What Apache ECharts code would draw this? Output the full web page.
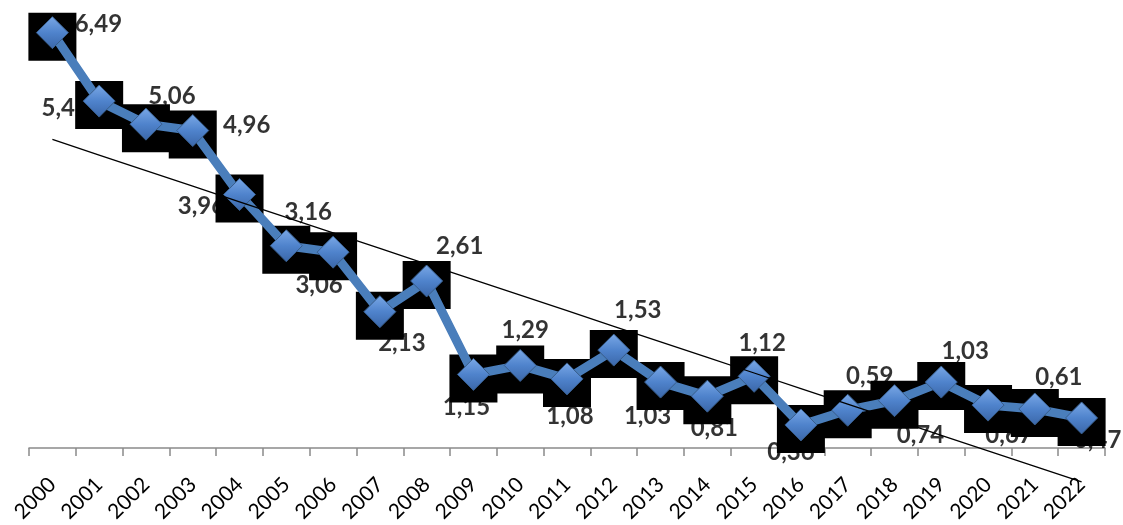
<!DOCTYPE html>
<html>
<head>
<meta charset="UTF-8">
<title>Chart</title>
<script src="https://cdn.jsdelivr.net/npm/echarts@6/dist/echarts.min.js"></script>
<style>
  html, body { margin: 0; padding: 0; background: #fff; }
  #chart { width: 1123px; height: 525px; }
</style>
</head>
<body>
<div id="chart"></div>
<script>
// years on the category axis
const years = ["2000", "2001", "2002", "2003", "2004", "2005", "2006", "2007",
  "2008", "2009", "2010", "2011", "2012", "2013", "2014", "2015", "2016",
  "2017", "2018", "2019", "2020", "2021", "2022"];

// values
const values = [6.49, 5.42, 5.06, 4.96, 3.96, 3.16, 3.06, 2.13, 2.61, 1.15,
  1.29, 1.08, 1.53, 1.03, 0.81, 1.12, 0.36, 0.59, 0.74, 1.03, 0.67, 0.61, 0.47];

// where each data label sits relative to its point (layout only)
const labelOffsets = [
  [46, -8], [-34, 7], [26, -28], [54, -5], [-38, 12], [22, -33], [-14, 33],
  [22, 32], [33, -35], [-7, 33], [5, -35], [3, 37], [24, -40], [-13, 34],
  [7, 32], [8, -33], [-10, 27], [22, -34], [26, 35], [24, -31], [21, 30],
  [24, -32], [16, 22]
];

// linear trend line (least squares over the data)
function linearTrend(ys) {
  const n = ys.length;
  let sx = 0, sy = 0, sxy = 0, sxx = 0;
  ys.forEach((y, i) => { sx += i; sy += y; sxy += i * y; sxx += i * i; });
  const slope = (n * sxy - sx * sy) / (n * sxx - sx * sx);
  const icpt = (sy - slope * sx) / n;
  return ys.map((_, i) => +(icpt + slope * i).toFixed(4));
}
const trend = linearTrend(values);

const chart = echarts.init(document.getElementById("chart"));

const option = {
  animation: false,
  grid: { left: 29, right: 18, top: 0, bottom: 75, containLabel: false },
  xAxis: {
    type: "category",
    data: years,
    boundaryGap: true,
    axisLine: { lineStyle: { color: "#8a8a8a", width: 1.5 } },
    axisTick: { show: true, length: 8, lineStyle: { color: "#8a8a8a", width: 1.5 } },
    axisLabel: {
      rotate: 45,
      margin: 33,
      interval: 0,
      color: "#000",
      fontFamily: "Lato",
      fontSize: 21
    }
  },
  yAxis: {
    type: "value",
    min: 0,
    max: 7,
    show: false,
    splitLine: { show: false }
  },
  series: [
    {
      // data labels, on the lowest layer so the black boxes cover them
      name: "labels",
      type: "scatter",
      zlevel: 0,
      z: 1,
      silent: true,
      symbolSize: 1,
      itemStyle: { color: "rgba(0,0,0,0)" },
      data: values.map((v, i) => ({
        value: v,
        label: { offset: labelOffsets[i] }
      })),
      label: {
        show: true,
        position: "inside",
        color: "#000",
        fontFamily: "Lato",
        fontWeight: "bold",
        fontSize: 24,
        formatter: (p) => p.value.toFixed(2).replace(".", ",")
      }
    },
    {
      // black boxes behind the markers
      name: "boxes",
      type: "scatter",
      zlevel: 1,
      z: 2,
      silent: true,
      symbol: "rect",
      symbolSize: 48,
      symbolOffset: [0, 4],
      itemStyle: { color: "#000", opacity: 1 },
      data: values
    },
    {
      name: "value",
      type: "line",
      zlevel: 1,
      z: 3,
      data: values,
      symbol: "diamond",
      symbolSize: 32,
      lineStyle: { color: "#4a7ebb", width: 9 },
      itemStyle: {
        color: new echarts.graphic.LinearGradient(0, 0, 0, 1, [
          { offset: 0, color: "#7aa8e6" },
          { offset: 0.5, color: "#4f83cc" },
          { offset: 1, color: "#3a66a8" }
        ]),
        borderColor: "#385d8a",
        borderWidth: 1
      }
    },
    {
      name: "trend",
      type: "line",
      zlevel: 1,
      z: 4,
      data: trend,
      symbol: "none",
      clip: false,
      silent: true,
      lineStyle: { color: "#000", width: 1.3 }
    }
  ]
};

chart.setOption(option);
</script>
</body>
</html>
